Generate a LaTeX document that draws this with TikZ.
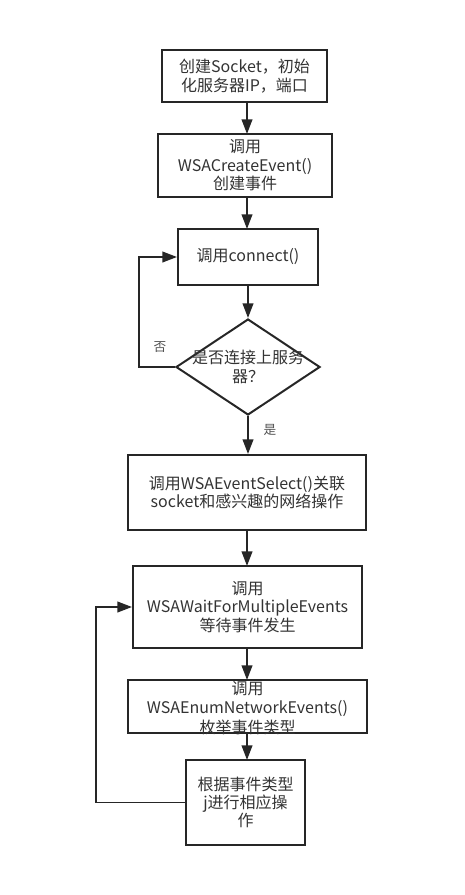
\documentclass[tikz,border=0pt]{standalone}
\usepackage{fontspec}
\newfontfamily\cjk{Noto Sans CJK SC}
\usetikzlibrary{arrows.meta,shapes.geometric}
\definecolor{linec}{HTML}{262626}
\definecolor{textc}{HTML}{333333}
\tikzset{
  box/.style={draw=linec, line width=1.5pt, fill=white, rectangle, inner sep=0pt, text=textc,
     font=\cjk\fontsize{12pt}{13.8pt}\selectfont, align=center},
  txt/.style={inner sep=0pt, text=textc, font=\cjk\fontsize{12pt}{14.5pt}\selectfont, align=center},
  lbl/.style={inner sep=0pt, text=textc!85, font=\cjk\fontsize{9.5pt}{11pt}\selectfont},
  arr/.style={draw=linec, line width=1.4pt, -{Triangle[length=11pt,width=8pt]}},
  ln/.style={draw=linec, line width=1.4pt}
}
\begin{document}
\begin{tikzpicture}[x=0.75pt,y=-0.75pt]
\useasboundingbox[fill=white] (0,0) rectangle (464,895);
\node[box, minimum width=165*0.75pt, minimum height=52*0.75pt] (b1) at (244.5,76) {创建Socket，初始\\化服务器IP，端口};
\node[box, minimum width=174*0.75pt, minimum height=63*0.75pt] (b2) at (245,165.5) {调用\\WSACreateEvent()\\创建事件};
\node[box, minimum width=140*0.75pt, minimum height=56*0.75pt] (b3) at (248,257) {调用connect()};
\node[draw=linec, line width=1.5pt, fill=white, diamond, inner sep=0pt, minimum width=144*0.75pt, minimum height=96*0.75pt] (dia) at (248,367) {};
\node[txt] (dt) at (dia.center) {是否连接上服务\\器？};
\node[box, minimum width=238*0.75pt, minimum height=75*0.75pt] (b4) at (247,492.5) {调用WSAEventSelect()关联\\socket和感兴趣的网络操作};
\node[box, minimum width=229*0.75pt, minimum height=82*0.75pt] (b5) at (247.5,607) {调用\\WSAWaitForMultipleEvents\\等待事件发生};
\node[box, minimum width=239*0.75pt, minimum height=53*0.75pt] (b6) at (247.5,706.5) {};
\node[txt] (t6) at (247.5,708) {调用\\WSAEnumNetworkEvents()\\枚举事件类型};
\node[box, minimum width=119*0.75pt, minimum height=85*0.75pt] (b7) at (245.5,802.5) {根据事件类型\\j进行相应操\\作};
\node[lbl] (no) at (160,347) {否};
\node[lbl] (yes) at (270,430) {是};
\draw[arr] (247,102) -- (247,134);
\draw[arr] (247,197) -- (247,229);
\draw[arr] (dia.north |- b3.south) -- (dia.north);
\draw[arr] (dia.south) -- (dia.south |- b4.north);
\draw[arr] (247,530) -- (247,566);
\draw[arr] (247,648) -- (247,680);
\draw[arr] (247,733) -- (247,760);
\draw[arr] (dia.west) -- ++(-36,0) |- (b3.west);
\draw[arr] (b7.west) -- ++(-89,0) |- (b5.west);
\end{tikzpicture}
\end{document}
